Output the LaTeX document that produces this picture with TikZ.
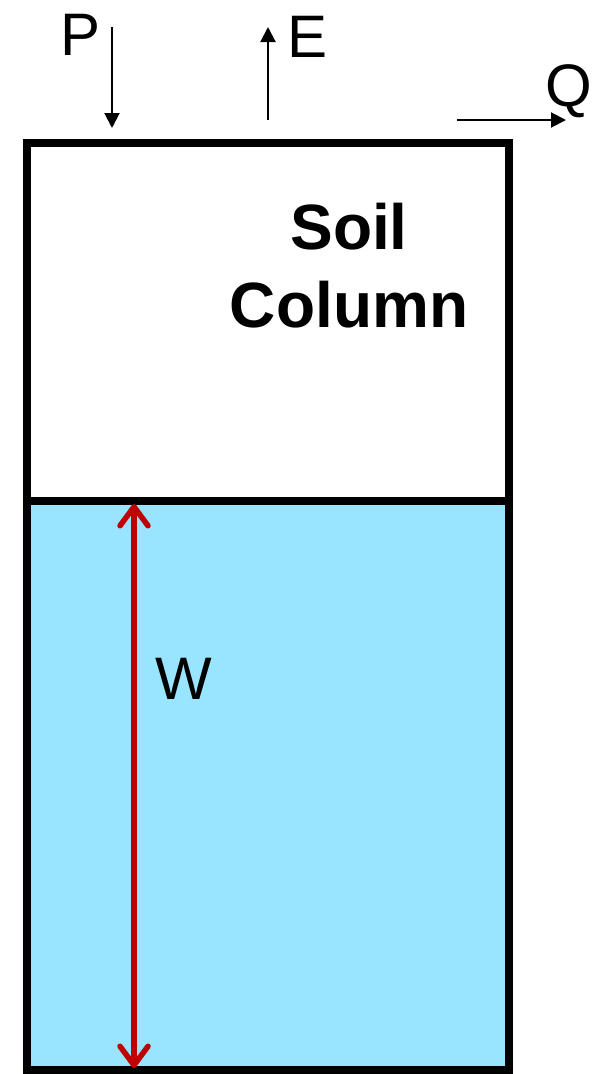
\documentclass[tikz,border=0pt]{standalone}
\usepackage{fontspec}
\setmainfont{Liberation Sans}
\usetikzlibrary{arrows.meta}
\definecolor{water}{HTML}{99E4FE}
\definecolor{wred}{HTML}{C00000}
\tikzset{
  flux/.style={line width=2pt, -{Triangle[length=15pt,width=15pt]}},
  lbl/.style={inner sep=0pt, font=\fontsize{60}{72}\selectfont, anchor=base west},
  wall/.style={line width=8pt, draw=black},
  depth/.style={draw=wred, line width=5.5pt, line cap=round,
    {Straight Barb[length=19pt,width=28pt,line cap=round,line join=round]}-{Straight Barb[length=19pt,width=28pt,line cap=round,line join=round]}}
}
\begin{document}
\begin{tikzpicture}[x=1pt,y=-1pt]
\useasboundingbox (0,0) rectangle (606,1074);
% water fill
\fill[water] (27,501) rectangle (509,1070);
% box
\draw[wall] (27,143) rectangle (509,1070);
\draw[wall] (27,501) -- (509,501);
% coordinates
\coordinate (ptop) at (112,27);
\coordinate (pbot) at (112,128);
\coordinate (ebot) at (268,120);
\coordinate (etop) at (268,27);
\coordinate (qleft) at (457,120);
\coordinate (qright) at (566,120);
\coordinate (wtop) at (134,504);
\coordinate (wbot) at (134,1068);
% fluxes
\draw[flux] (ptop) -- (pbot);
\draw[flux] (ebot) -- (etop);
\draw[flux] (qleft) -- (qright);
\draw[depth] (wtop) -- (wbot);
% labels
\node[lbl] (P) at (60,55) {P};
\node[lbl] (E) at (287,57) {E};
\node[lbl] (Q) at (545,106) {Q};
\node[lbl] (W) at (155,699) {W};
\node[inner sep=0pt, font=\fontsize{64}{78}\selectfont\bfseries, align=center] (soil) at (349,266) {Soil\\Column};
\end{tikzpicture}
\end{document}
